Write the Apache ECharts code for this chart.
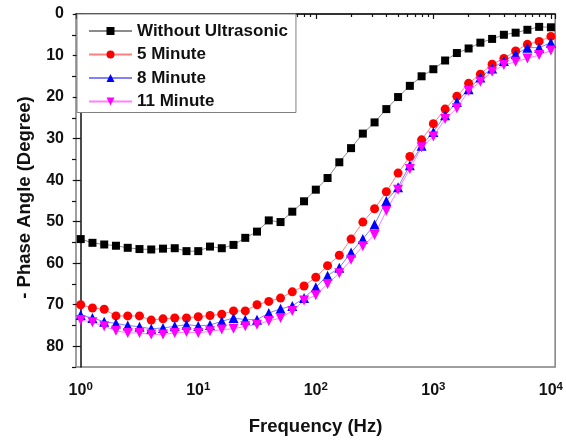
<!DOCTYPE html>
<html>
<head>
<meta charset="utf-8">
<script src="https://cdn.jsdelivr.net/npm/echarts@6/dist/echarts.min.js"></script>
<style>
  html, body { margin: 0; padding: 0; background: #fff; }
  #chart { width: 566px; height: 441px; }
</style>
</head>
<body>
<div id="chart"></div>
<script>
// Frequencies (Hz)
var freq = [1, 1.259, 1.585, 1.995, 2.512, 3.162, 3.981, 5.012, 6.31, 7.943,
  10, 12.59, 15.85, 19.95, 25.12, 31.62, 39.81, 50.12, 63.1, 79.43,
  100, 125.9, 158.5, 199.5, 251.2, 316.2, 398.1, 501.2, 631, 794.3,
  1000, 1259, 1585, 1995, 2512, 3162, 3981, 5012, 6310, 7943, 10000];

var seriesNames = ['Without Ultrasonic', '5 Minute', '8 Minute', '11 Minute'];

var withoutUltrasonic = [54.2, 55.1, 55.5, 55.8, 56.3, 56.6, 56.7, 56.5, 56.4, 57.1,
  57.1, 56.0, 56.4, 55.6, 53.9, 52.4, 49.7, 50.1, 47.6, 45.1,
  42.3, 39.5, 35.7, 32.3, 28.8, 26.1, 22.9, 20.0, 17.3, 15.0,
  13.3, 11.2, 9.4, 8.3, 6.9, 6.0, 5.0, 4.5, 3.8, 3.1, 3.2];

var min5 = [70.0, 70.8, 71.1, 72.7, 72.7, 72.7, 73.7, 73.4, 73.2, 73.2,
  72.9, 72.6, 72.3, 71.5, 71.5, 70.0, 69.2, 68.4, 66.9, 65.5,
  63.4, 60.6, 58.1, 54.2, 50.1, 46.9, 42.8, 38.3, 34.3, 30.3,
  26.4, 22.9, 19.8, 16.7, 14.5, 12.1, 10.7, 8.9, 7.3, 6.6, 5.4];

var min8 = [72.5, 73.2, 74.1, 74.5, 75.0, 75.3, 75.8, 75.6, 75.2, 74.8,
  75.1, 74.9, 74.0, 73.2, 73.6, 73.6, 72.0, 71.0, 70.3, 68.4,
  65.8, 63.0, 61.1, 57.4, 54.2, 50.7, 45.0, 41.7, 36.4, 31.7,
  28.4, 24.4, 21.2, 18.1, 15.3, 13.1, 11.3, 9.7, 8.1, 8.1, 6.9];

var min11 = [73.7, 74.2, 75.2, 76.3, 76.8, 76.8, 77.2, 77.2, 76.8, 76.6,
  76.8, 76.4, 76.0, 75.8, 75.2, 74.8, 73.9, 73.2, 71.5, 69.0,
  67.7, 65.0, 62.4, 59.2, 55.9, 53.2, 47.4, 42.3, 37.3, 32.1,
  29.5, 25.3, 22.7, 18.5, 16.3, 13.9, 12.3, 11.5, 10.7, 9.9, 8.8];

var yMajorTicks = [0, 10, 20, 30, 40, 50, 60, 70, 80];
var yMinorTicks = [5, 15, 25, 35, 45, 55, 65, 75, 85];
var xMinorMultipliers = [2, 3, 4, 5, 6, 7, 8, 9];
var xDecades = [1, 10, 100, 1000];

var FONT = 'Liberation Sans, Arial, sans-serif';
var X_MIN = 0.912, X_MAX = 10870;

function pairs(ys) {
  return freq.map(function (f, i) { return [f, ys[i]]; });
}

var xMinorPos = [];
xDecades.forEach(function (d) {
  xMinorMultipliers.forEach(function (m) { xMinorPos.push(Math.log10(m * d)); });
});

var chart = echarts.init(document.getElementById('chart'), null, { renderer: 'canvas' });

var option = {
  backgroundColor: '#fff',
  animation: false,
  grid: {
    left: 76, right: 9, top: 14, bottom: 74,
    show: true, borderColor: '#808080', borderWidth: 1.5
  },
  legend: {
    orient: 'vertical',
    left: 77, top: 14,
    data: seriesNames,
    itemWidth: 43, itemHeight: 10, itemGap: 5.5,
    padding: [8, 8, 2, 11],
    backgroundColor: '#fff',
    borderColor: '#808080', borderWidth: 1,
    textStyle: { fontFamily: FONT, fontSize: 17, fontWeight: 'bold', color: '#111', lineHeight: 18 }
  },
  xAxis: [
    {
      type: 'log', logBase: 10, min: X_MIN, max: X_MAX, position: 'bottom',
      name: 'Frequency (Hz)', nameLocation: 'middle', nameGap: 50,
      nameTextStyle: { fontFamily: FONT, fontSize: 18.5, fontWeight: 'bold', color: '#111' },
      axisLine: { show: true, lineStyle: { color: '#111', width: 1.5 } },
      axisTick: { show: true, length: 5, lineStyle: { color: '#111', width: 1.2 } },
      splitLine: { show: false },
      axisLabel: {
        margin: 14,
        formatter: function (v) {
          var l = Math.log10(v);
          var r = Math.round(l);
          if (Math.abs(l - r) > 1e-6) return '';
          return '{b|10}{s|' + r + '}';
        },
        rich: {
          b: { fontFamily: FONT, fontSize: 16, fontWeight: 'bold', color: '#111', lineHeight: 19 },
          s: { fontFamily: FONT, fontSize: 11.5, fontWeight: 'bold', color: '#111', lineHeight: 10, verticalAlign: 'top' }
        }
      }
    },
    {
      type: 'value', min: Math.log10(X_MIN), max: Math.log10(X_MAX), position: 'bottom',
      axisLine: { show: false }, axisLabel: { show: false }, splitLine: { show: false },
      axisTick: { show: true, length: 3, customValues: xMinorPos, lineStyle: { color: '#111', width: 1.2 } }
    }
  ],
  yAxis: [
    {
      type: 'value', inverse: true, min: 0, max: 85, interval: 10, position: 'left',
      name: '- Phase Angle (Degree)', nameLocation: 'middle', nameGap: 42, nameRotate: 90,
      nameTextStyle: { fontFamily: FONT, fontSize: 18.5, fontWeight: 'bold', color: '#111', padding: [0, 14, 0, 0] },
      axisLine: { show: true, lineStyle: { color: '#111', width: 1.5 } },
      axisTick: { show: true, length: 8, customValues: yMajorTicks, lineStyle: { color: '#111', width: 1.2 } },
      splitLine: { show: false },
      axisLabel: {
        margin: 12, customValues: yMajorTicks,
        fontFamily: FONT, fontSize: 16, fontWeight: 'bold', color: '#111'
      }
    },
    {
      type: 'value', inverse: true, min: 0, max: 85, position: 'left',
      axisLine: { show: false }, axisLabel: { show: false }, splitLine: { show: false },
      axisTick: { show: true, length: 4, customValues: yMinorTicks, lineStyle: { color: '#111', width: 1.2 } }
    }
  ],
  series: [
    {
      name: seriesNames[0], type: 'line', xAxisIndex: 0, yAxisIndex: 0,
      data: pairs(withoutUltrasonic),
      symbol: 'rect', symbolSize: 8,
      itemStyle: { color: '#000' },
      lineStyle: { color: '#8c8c8c', width: 1 }
    },
    {
      name: seriesNames[1], type: 'line', xAxisIndex: 0, yAxisIndex: 0,
      data: pairs(min5),
      symbol: 'circle', symbolSize: 9,
      itemStyle: { color: '#ff0000' },
      lineStyle: { color: '#ff8080', width: 1 }
    },
    {
      name: seriesNames[2], type: 'line', xAxisIndex: 0, yAxisIndex: 0,
      data: pairs(min8),
      symbol: 'triangle', symbolSize: 10,
      itemStyle: { color: '#0000ff' },
      lineStyle: { color: '#8080ff', width: 1 }
    },
    {
      name: seriesNames[3], type: 'line', xAxisIndex: 0, yAxisIndex: 0,
      data: pairs(min11),
      symbol: 'triangle', symbolRotate: 180, symbolSize: 10,
      itemStyle: { color: '#ff00ff' },
      lineStyle: { color: '#ff80ff', width: 1 }
    }
  ]
};

chart.setOption(option);
</script>
</body>
</html>
